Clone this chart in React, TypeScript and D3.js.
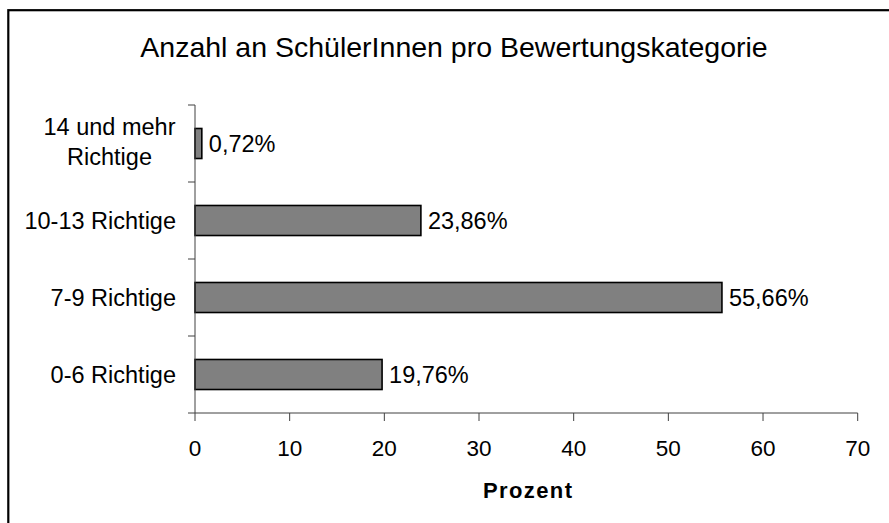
import React from "react";
import * as d3 from "d3";

const categories = ["14 und mehr Richtige", "10-13 Richtige", "7-9 Richtige", "0-6 Richtige"];
const categoryLines = [["14 und mehr", "Richtige"], ["10-13 Richtige"], ["7-9 Richtige"], ["0-6 Richtige"]];
const values = [0.72, 23.86, 55.66, 19.76];
const xTicks = [0, 10, 20, 30, 40, 50, 60, 70];
const title = "Anzahl an SchülerInnen pro Bewertungskategorie";
const xTitle = "Prozent";

const W = 889;
const H = 523;
const FONT = "'Liberation Sans', Arial, Helvetica, sans-serif";

export default function App() {
  const x = d3.scaleLinear().domain([0, 70]).range([195, 857.7]);
  const y = d3
    .scaleBand<string>()
    .domain(categories)
    .range([105, 413])
    .paddingInner(0.61)
    .paddingOuter(0.305);
  const step = y.step();
  const boundaries = d3.range(categories.length + 1).map((i) => 105 + i * step);
  const fmt = (v: number) => v.toFixed(2).replace(".", ",") + "%";
  const axisColor = "#404040";
  const labelSize = 23.5;

  return (
    <svg
      width={W}
      height={H}
      style={{ position: "absolute", left: 0, top: 0, background: "#fff" }}
      fontFamily={FONT}
    >
      <rect x={0} y={0} width={W} height={H} fill="#fff" />
      <rect x={8.3} y={10.2} width={W + 20} height={H + 20} fill="none" stroke="#000" strokeWidth={2.2} />
      <text x={454} y={57} textAnchor="middle" fontSize={28.5} fill="#000">
        {title}
      </text>

      {/* bars */}
      {categories.map((c, i) => (
        <g key={c}>
          <rect
            x={x(0)}
            y={y(c)!}
            width={x(values[i]) - x(0)}
            height={y.bandwidth()}
            fill="#808080"
            stroke="#000"
            strokeWidth={1.6}
          />
          <text
            x={x(values[i]) + 7}
            y={y(c)! + y.bandwidth() / 2}
            dy="0.35em"
            fontSize={labelSize}
            fill="#000"
          >
            {fmt(values[i])}
          </text>
        </g>
      ))}

      {/* y axis */}
      <line x1={x(0)} x2={x(0)} y1={105} y2={413} stroke={axisColor} strokeWidth={1} />
      {boundaries.map((b, i) => (
        <line key={i} x1={188} x2={x(0)} y1={b} y2={b} stroke={axisColor} strokeWidth={1} />
      ))}
      {categories.map((c, i) => {
        const lines = categoryLines[i];
        const cy = y(c)! + y.bandwidth() / 2;
        if (lines.length === 1) {
          return (
            <text key={c} x={176} y={cy} dy="0.35em" textAnchor="end" fontSize={labelSize} fill="#000">
              {lines[0]}
            </text>
          );
        }
        return (
          <text key={c} x={109.5} y={cy} textAnchor="middle" fontSize={labelSize} fill="#000">
            <tspan x={109.5} dy={-9}>{lines[0]}</tspan>
            <tspan x={109.5} dy={30}>{lines[1]}</tspan>
          </text>
        );
      })}

      {/* x axis */}
      <line x1={x(0)} x2={x(70)} y1={413} y2={413} stroke={axisColor} strokeWidth={1} />
      {xTicks.map((t) => (
        <g key={t}>
          <line x1={x(t)} x2={x(t)} y1={413} y2={421} stroke={axisColor} strokeWidth={1} />
          <text x={x(t)} y={456} textAnchor="middle" fontSize={22.5} fill="#000">
            {t}
          </text>
        </g>
      ))}
      <text
        x={527.5}
        y={498}
        textAnchor="middle"
        fontSize={22}
        fontWeight="bold"
        fill="#000"
        textLength={89}
        lengthAdjust="spacing"
      >
        {xTitle}
      </text>
    </svg>
  );
}
